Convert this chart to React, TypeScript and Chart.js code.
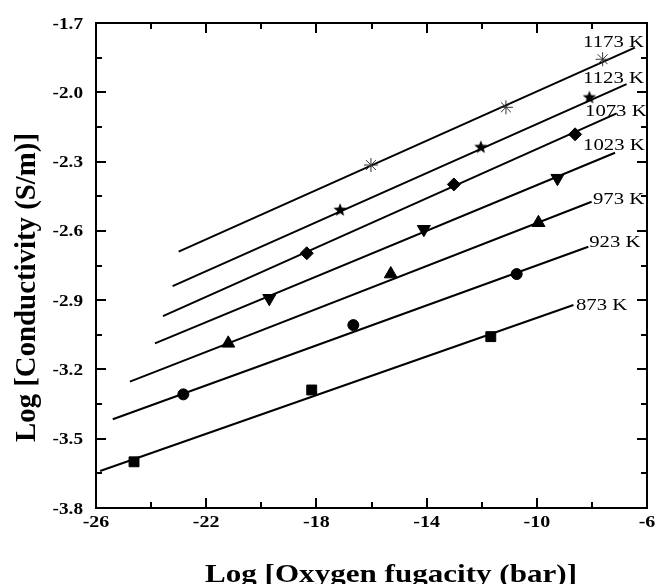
import React, { useEffect, useRef } from "react";
import { Chart, registerables } from "chart.js";

Chart.register(...registerables);

// ---- Data ----
const temperatures = ["1173 K", "1123 K", "1073 K", "1023 K", "973 K", "923 K", "873 K"];

// measured points: x = log fO2 (bar), y = log conductivity (S/m)
const x1173 = [-16.02, -11.12, -7.61];
const y1173 = [-2.315, -2.065, -1.857];
const x1123 = [-17.14, -12.03, -8.09];
const y1123 = [-2.51, -2.238, -2.023];
const x1073 = [-18.35, -13.01, -8.61];
const y1073 = [-2.697, -2.399, -2.182];
const x1023 = [-19.71, -14.1, -9.25];
const y1023 = [-2.892, -2.593, -2.372];
const x973 = [-21.2, -15.3, -9.94];
const y973 = [-3.087, -2.787, -2.565];
const x923 = [-22.83, -16.66, -10.73];
const y923 = [-3.308, -3.008, -2.787];
const x873 = [-24.62, -18.17, -11.67];
const y873 = [-3.6, -3.289, -3.058];

// fitted lines (start, end)
const fitX1173 = [-23.0, -6.44];
const fitY1173 = [-2.69, -1.807];
const fitX1123 = [-23.22, -6.74];
const fitY1123 = [-2.839, -1.965];
const fitX1073 = [-23.57, -7.1];
const fitY1073 = [-2.969, -2.091];
const fitX1023 = [-23.86, -7.16];
const fitY1023 = [-3.087, -2.262];
const fitX973 = [-24.77, -8.01];
const fitY973 = [-3.253, -2.474];
const fitX923 = [-25.39, -8.13];
const fitY923 = [-3.416, -2.669];
const fitX873 = [-25.85, -8.67];
const fitY873 = [-3.64, -2.921];

// temperature label anchors (data coordinates)
const labelX = [-8.32, -8.32, -8.25, -8.32, -7.96, -8.1, -8.58];
const labelY = [-1.782, -1.934, -2.077, -2.224, -2.462, -2.644, -2.921];

// axes
const xMin = -26;
const xMax = -6;
const yMin = -3.8;
const yMax = -1.7;
const xMajorTicks = [-26, -22, -18, -14, -10, -6];
const xMinorTicks = [-24, -20, -16, -12, -8];
const yMajorTicks = [-1.7, -2.0, -2.3, -2.6, -2.9, -3.2, -3.5, -3.8];
const yMinorTicks = [-1.85, -2.15, -2.45, -2.75, -3.05, -3.35, -3.65];
const xTitle = "Log [Oxygen fugacity (bar)]";
const yTitle = "Log [Conductivity (S/m)]";

const SERIF = '"Liberation Serif", "Times New Roman", serif';

function pts(xs: number[], ys: number[]) {
  return xs.map((x, i) => ({ x, y: ys[i] }));
}

function makeStar(r: number): HTMLCanvasElement {
  const c = document.createElement("canvas");
  const s = Math.ceil(r * 2 + 2);
  c.width = s;
  c.height = s;
  const g = c.getContext("2d")!;
  g.beginPath();
  for (let i = 0; i < 10; i++) {
    const rr = i % 2 === 0 ? r : r * 0.42;
    const a = -Math.PI / 2 + (i * Math.PI) / 5;
    g.lineTo(s / 2 + rr * Math.cos(a), s / 2 + rr * Math.sin(a));
  }
  g.closePath();
  g.fillStyle = "#000";
  g.fill();
  return c;
}

const decorPlugin = {
  id: "decor",
  afterDraw(chart: any) {
    const ctx: CanvasRenderingContext2D = chart.ctx;
    const { left, right, top, bottom } = chart.chartArea;
    const xs = chart.scales.x;
    const ys = chart.scales.y;
    ctx.save();
    ctx.strokeStyle = "#000";
    ctx.fillStyle = "#000";
    // frame
    ctx.lineWidth = 2;
    ctx.strokeRect(left, top, right - left, bottom - top);
    // ticks (inward, all four sides)
    const major = 10;
    const minor = 6;
    ctx.beginPath();
    const xt = (v: number, len: number) => {
      const px = Math.round(xs.getPixelForValue(v));
      ctx.moveTo(px, bottom);
      ctx.lineTo(px, bottom - len);
      ctx.moveTo(px, top);
      ctx.lineTo(px, top + len);
    };
    const yt = (v: number, len: number) => {
      const py = Math.round(ys.getPixelForValue(v));
      ctx.moveTo(left, py);
      ctx.lineTo(left + len, py);
      ctx.moveTo(right, py);
      ctx.lineTo(right - len, py);
    };
    xMajorTicks.forEach((v) => xt(v, major));
    xMinorTicks.forEach((v) => xt(v, minor));
    yMajorTicks.forEach((v) => yt(v, major));
    yMinorTicks.forEach((v) => yt(v, minor));
    ctx.stroke();

    // tick labels
    ctx.font = `bold 16px ${SERIF}`;
    ctx.textBaseline = "alphabetic";
    ctx.textAlign = "center";
    xMajorTicks.forEach((v) => {
      const px = xs.getPixelForValue(v);
      ctx.save();
      ctx.translate(px, bottom + 19);
      ctx.scale(1.25, 1);
      ctx.fillText(String(v), 0, 0);
      ctx.restore();
    });
    ctx.textAlign = "right";
    yMajorTicks.forEach((v) => {
      const py = ys.getPixelForValue(v);
      ctx.save();
      ctx.translate(left - 13, py + 5.5);
      ctx.scale(1.2, 1);
      ctx.fillText(v.toFixed(1), 0, 0);
      ctx.restore();
    });

    // axis titles
    ctx.font = `bold 25px ${SERIF}`;
    ctx.textAlign = "center";
    {
      const w = ctx.measureText(xTitle).width;
      ctx.save();
      ctx.translate(391, 582);
      ctx.scale(372 / w, 1);
      ctx.fillText(xTitle, 0, 0);
      ctx.restore();
    }
    {
      const w = ctx.measureText(yTitle).width;
      ctx.save();
      ctx.translate(35, 287.5);
      ctx.rotate(-Math.PI / 2);
      ctx.scale(309 / w, 1.2);
      ctx.fillText(yTitle, 0, 0);
      ctx.restore();
    }

    // temperature labels
    ctx.font = `17px ${SERIF}`;
    ctx.textAlign = "left";
    temperatures.forEach((t, i) => {
      const px = xs.getPixelForValue(labelX[i]);
      const py = ys.getPixelForValue(labelY[i]);
      ctx.save();
      ctx.translate(px, py + 5.5);
      ctx.scale(1.22, 1);
      ctx.fillText(t, 0, 0);
      ctx.restore();
    });
    ctx.restore();
  },
};

export default function App() {
  const ref = useRef<HTMLCanvasElement | null>(null);

  useEffect(() => {
    if (!ref.current) return;
    const star = makeStar(7);
    const pointSets = [
      { d: pts(x1173, y1173), style: "star", r: 7, bg: "transparent", bc: "#333", bw: 1, rot: 0 },
      { d: pts(x1123, y1123), style: star, r: 7, bg: "#000", bc: "#000", bw: 1, rot: 0 },
      { d: pts(x1073, y1073), style: "rectRot", r: 6.5, bg: "#000", bc: "#000", bw: 1, rot: 0 },
      { d: pts(x1023, y1023), style: "triangle", r: 7.5, bg: "#000", bc: "#000", bw: 1, rot: 180 },
      { d: pts(x973, y973), style: "triangle", r: 7.5, bg: "#000", bc: "#000", bw: 1, rot: 0 },
      { d: pts(x923, y923), style: "circle", r: 5.5, bg: "#000", bc: "#000", bw: 1, rot: 0 },
      { d: pts(x873, y873), style: "rect", r: 7, bg: "#000", bc: "#000", bw: 1, rot: 0 },
    ];
    const fits = [
      pts(fitX1173, fitY1173),
      pts(fitX1123, fitY1123),
      pts(fitX1073, fitY1073),
      pts(fitX1023, fitY1023),
      pts(fitX973, fitY973),
      pts(fitX923, fitY923),
      pts(fitX873, fitY873),
    ];
    const datasets: any[] = [];
    pointSets.forEach((p, i) => {
      datasets.push({
        label: temperatures[i],
        data: p.d,
        showLine: false,
        pointStyle: p.style,
        pointRadius: p.r,
        pointHoverRadius: p.r,
        pointRotation: p.rot,
        pointBackgroundColor: p.bg,
        pointBorderColor: p.bc,
        pointBorderWidth: p.bw,
        order: 0,
      });
    });
    fits.forEach((f, i) => {
      datasets.push({
        label: temperatures[i] + " fit",
        data: f,
        showLine: true,
        borderColor: "#000",
        borderWidth: 2,
        pointRadius: 0,
        fill: false,
        order: 1,
      });
    });

    const chart = new Chart(ref.current, {
      type: "scatter",
      data: { datasets },
      options: {
        animation: false,
        responsive: false,
        maintainAspectRatio: false,
        devicePixelRatio: 1,
        layout: { padding: { top: 23, right: 9, left: 0, bottom: 0 } },
        plugins: {
          legend: { display: false },
          tooltip: { enabled: false },
        },
        scales: {
          x: {
            type: "linear",
            min: xMin,
            max: xMax,
            grid: { display: false, drawTicks: false },
            border: { display: false },
            ticks: { display: false },
            afterFit: (s: any) => {
              s.height = 76;
            },
          },
          y: {
            type: "linear",
            min: yMin,
            max: yMax,
            grid: { display: false, drawTicks: false },
            border: { display: false },
            ticks: { display: false },
            afterFit: (s: any) => {
              s.width = 96;
            },
          },
        },
      } as any,
      plugins: [decorPlugin],
    });
    return () => chart.destroy();
  }, []);

  return (
    <div style={{ position: "absolute", left: 0, top: 0, width: 656, height: 584, background: "#fff" }}>
      <canvas ref={ref} width={656} height={584} style={{ display: "block" }} />
    </div>
  );
}
